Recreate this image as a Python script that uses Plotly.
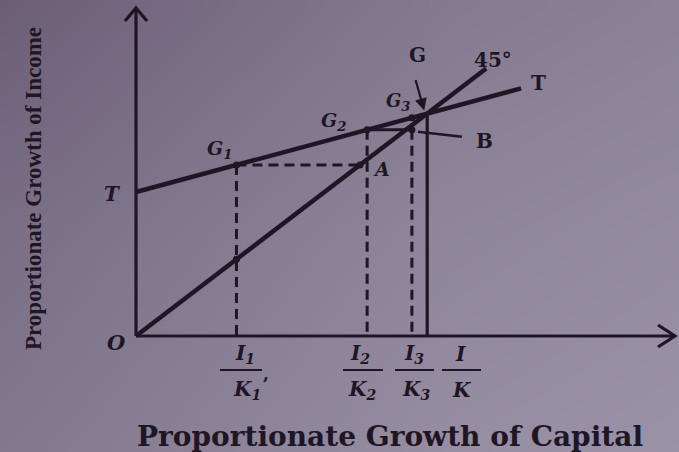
import plotly.graph_objects as go

# ---- model values (growth of capital on x, growth of income on y) ----
t_intercept = 5.18          # T-line intercept on the income axis
t_slope = 0.3525            # slope of the T line
t_end = 10.58               # where the T line stops
line45_end = 9.62           # where the 45-degree line stops
capital_ratios = [2.76, 6.35, 7.58, 8.0]          # I1/K1, I2/K2, I3/K3, I/K
ratio_num = ["I<sub>1</sub>", "I<sub>2</sub>", "I<sub>3</sub>", "I"]
ratio_den = ["K<sub>1</sub>", "K<sub>2</sub>", "K<sub>3</sub>", "K"]
x_axis_title = "Proportionate Growth of Capital"
y_axis_title = "Proportionate Growth of Income"

# ---- canvas geometry ----
W, H = 679, 452
ORIGIN_PX = (136, 336)      # pixel position of O
SX, SY = 36.4, 27.8         # pixels per unit on each axis
x_range = [-ORIGIN_PX[0] / SX, (W - ORIGIN_PX[0]) / SX]
y_range = [(ORIGIN_PX[1] - H) / SY, ORIGIN_PX[1] / SY]


def px(dx):
    return dx / SX


def py(dy):
    return dy / SY


def to_x(pixel_x):
    return (pixel_x - ORIGIN_PX[0]) / SX


def to_y(pixel_y):
    return (ORIGIN_PX[1] - pixel_y) / SY


INK = "#1f1624"
SERIF = "Liberation Serif"
WIDE_SERIF = "DejaVu Serif"


def t_line(x):
    return t_intercept + t_slope * x


fig = go.Figure()

# paper tone of the page
bg_x = [to_x(7), to_x(230), to_x(450), to_x(679)]
bg_y = [to_y(452), to_y(230), to_y(6)]
bg_z = [[0.42, 0.58, 0.74, 0.80],
        [0.28, 0.46, 0.62, 0.70],
        [0.05, 0.26, 0.45, 0.55]]
fig.add_trace(go.Heatmap(x=bg_x, y=bg_y, z=bg_z, zsmooth="best", showscale=False,
                         zmin=0, zmax=1, hoverinfo="skip",
                         colorscale=[[0, "#685c73"], [0.5, "#877e94"], [1, "#a79fb2"]]))

line_style = dict(color=INK, width=4.5)
thin_style = dict(color=INK, width=3.2)
dash_style = dict(color=INK, width=3, dash="10px,6px")


def seg(xs, ys, style):
    fig.add_trace(go.Scatter(x=xs, y=ys, mode="lines", line=style,
                             hoverinfo="skip", showlegend=False))


# axes with open arrowheads
x_tip = to_x(675)
y_tip = to_y(8)
seg([0, x_tip], [0, 0], thin_style)
seg([0, 0], [0, y_tip], thin_style)
seg([x_tip - px(17), x_tip, x_tip - px(17)], [py(11), 0, -py(11)], thin_style)
seg([-px(11), 0, px(11)], [y_tip - py(13), y_tip, y_tip - py(13)], thin_style)

# T line and 45-degree line
seg([0, t_end], [t_line(0), t_line(t_end)], line_style)
seg([0, line45_end], [0, line45_end], line_style)

# step construction between the two lines
x1, x2, x3, xe = capital_ratios
g1 = t_line(x1)
g2 = t_line(x2)
g3 = t_line(x3)
seg([x1, x1], [g1, 0], dash_style)
seg([x1, g1], [g1, g1], dash_style)
seg([x2, x2], [g2, 0], dash_style)
seg([x2, x3], [g2, g2], thin_style)
seg([x3, x3], [g2, 0], dash_style)
seg([xe, xe], [t_line(xe), 0], thin_style)

fig.add_trace(go.Scatter(x=[x1, g1, x1, x2, x3, x3], y=[g1, g1, x1, g2, g2, g3],
                         mode="markers", marker=dict(color=INK, size=7),
                         hoverinfo="skip", showlegend=False))

annotations = []


def label(x, y, text, size=20, bold=True, family=WIDE_SERIF):
    annotations.append(dict(x=x, y=y, text=("<b>%s</b>" % text) if bold else text,
                            showarrow=False, xanchor="center", yanchor="middle",
                            font=dict(family=family, size=size, color=INK)))


# point labels
label(to_x(112), to_y(194), "<i>T</i>", 20)
label(to_x(116), to_y(342), "<i>O</i>", 21)
label(to_x(220), to_y(149), "<i>G<sub>1</sub></i>", 19)
label(to_x(334), to_y(121), "<i>G<sub>2</sub></i>", 19)
label(to_x(398), to_y(102), "<i>G<sub>3</sub></i>", 18)
label(to_x(381), to_y(169), "<i>A</i>", 19)
label(to_x(417), to_y(55), "G", 20)
label(to_x(493), to_y(60), "45°", 20)
label(to_x(538), to_y(83), "T", 20)
label(to_x(484), to_y(141), "B", 20)

# G arrow and B pointer
gx = xe - px(3)
annotations.append(dict(x=gx, y=t_line(xe) + py(3), ax=-9, ay=-32, text="",
                        showarrow=True, arrowhead=2, arrowsize=1.1, arrowwidth=2.2,
                        arrowcolor=INK))
seg([x3 + px(6), x3 + px(50)], [g2 - py(2), g2 - py(7)], dict(color=INK, width=2.5))

# fraction tick labels under the capital axis
num_px = [245, 360, 414, 460]
bar_px = [(220, 262), (343, 383), (395, 434), (442, 481)]
for i in range(len(capital_ratios)):
    label(to_x(num_px[i]), to_y(354), "<i>%s</i>" % ratio_num[i], 20)
    label(to_x(num_px[i] + 2), to_y(390), "<i>%s</i>" % ratio_den[i], 20)
    seg([to_x(bar_px[i][0]), to_x(bar_px[i][1])], [to_y(370), to_y(370)],
        dict(color=INK, width=2))
label(to_x(266), to_y(374), ",", 17)

# axis titles
annotations.append(dict(x=to_x(390), y=to_y(436), text="<b>%s</b>" % x_axis_title,
                        showarrow=False,
                        font=dict(family=WIDE_SERIF, size=28, color=INK),
                        xanchor="center", yanchor="middle"))
annotations.append(dict(x=to_x(33), y=to_y(189), text="<b>%s</b>" % y_axis_title,
                        showarrow=False, textangle=-90,
                        font=dict(family=SERIF, size=23, color=INK),
                        xanchor="center", yanchor="middle"))

fig.update_layout(
    width=W, height=H,
    margin=dict(l=0, r=0, t=0, b=0),
    paper_bgcolor="white", plot_bgcolor="white",
    xaxis=dict(range=x_range, visible=False, fixedrange=True),
    yaxis=dict(range=y_range, visible=False, fixedrange=True),
    annotations=annotations,
    showlegend=False,
)

fig.write_html("out.html")
